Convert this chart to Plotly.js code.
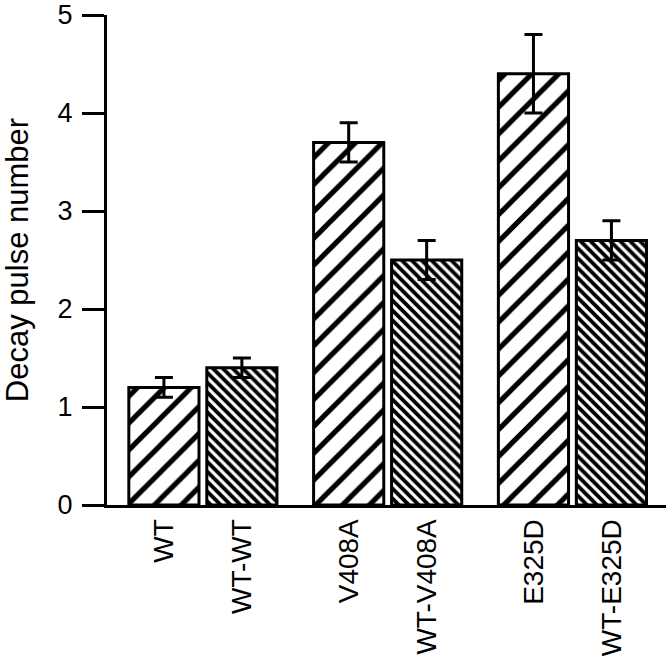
<!DOCTYPE html>
<html>
<head>
<meta charset="utf-8">
<script src="https://cdn.plot.ly/plotly-3.0.1.min.js"></script>
<style>
  html, body { margin: 0; padding: 0; background: #fff; }
  #chart { width: 666px; height: 661px; }
</style>
</head>
<body>
<div id="chart"></div>
<script>
// bar labels, in drawing order
const labels = ['WT', 'WT-WT', 'V408A', 'WT-V408A', 'E325D', 'WT-E325D'];

// single subunit constructs (sparse hatch)
const singleNames = ['WT', 'V408A', 'E325D'];
const singleValues = [1.2, 3.7, 4.4];
const singleErrors = [0.1, 0.2, 0.4];

// WT-linked dimers (dense hatch)
const dimerNames = ['WT-WT', 'WT-V408A', 'WT-E325D'];
const dimerValues = [1.4, 2.5, 2.7];
const dimerErrors = [0.1, 0.2, 0.2];

const yTicks = [0, 1, 2, 3, 4, 5];

// each group holds a pair of bars; groups are spaced further apart than pair members
const groupStep = 2.37;
const posOf = name => {
    const i = labels.indexOf(name);
    return Math.floor(i / 2) * groupStep + (i % 2);
};

const font = 'Liberation Sans, Arial, Helvetica, sans-serif';

const singles = {
    type: 'bar',
    x: singleNames.map(posOf),
    y: singleValues,
    width: 0.9,
    marker: {
        color: '#ffffff',
        line: { color: '#000000', width: 3 },
        pattern: { shape: '/', size: 19, solidity: 0.27, fgcolor: '#000000', bgcolor: '#ffffff', fillmode: 'replace' }
    },
    error_y: { type: 'data', array: singleErrors, visible: true, color: '#000000', thickness: 3, width: 9 },
    hoverinfo: 'skip'
};

const dimers = {
    type: 'bar',
    x: dimerNames.map(posOf),
    y: dimerValues,
    width: 0.9,
    marker: {
        color: '#ffffff',
        line: { color: '#000000', width: 3 },
        pattern: { shape: '\\', size: 7, solidity: 0.55, fgcolor: '#000000', bgcolor: '#ffffff', fillmode: 'replace' }
    },
    error_y: { type: 'data', array: dimerErrors, visible: true, color: '#000000', thickness: 3, width: 9 },
    hoverinfo: 'skip'
};

const layout = {
    width: 666,
    height: 661,
    margin: { l: 107, r: 0, t: 15, b: 156 },
    paper_bgcolor: '#ffffff',
    plot_bgcolor: '#ffffff',
    showlegend: false,
    barmode: 'overlay',
    font: { family: font, color: '#000000' },
    xaxis: {
        range: [-0.73, 6.44],
        tickvals: labels.map(posOf),
        ticktext: labels,
        tickangle: -90,
        ticks: '',
        ticklabelstandoff: 0,
        tickfont: { size: 28, family: font, color: '#000000' },
        showline: true,
        linecolor: '#000000',
        linewidth: 3,
        showgrid: false,
        zeroline: false,
        fixedrange: true
    },
    yaxis: {
        range: [0, 5],
        tickvals: yTicks,
        ticks: 'outside',
        ticklen: 22,
        tickwidth: 3,
        tickcolor: '#000000',
        ticklabelstandoff: 4,
        tickfont: { size: 27, family: font, color: '#000000' },
        showline: true,
        linecolor: '#000000',
        linewidth: 3,
        showgrid: false,
        zeroline: false,
        fixedrange: true,
        title: { text: 'Decay pulse number', font: { size: 31, family: font, color: '#000000' }, standoff: 22 }
    }
};

Plotly.newPlot('chart', [singles, dimers], layout, { displayModeBar: false, staticPlot: true });
</script>
</body>
</html>
